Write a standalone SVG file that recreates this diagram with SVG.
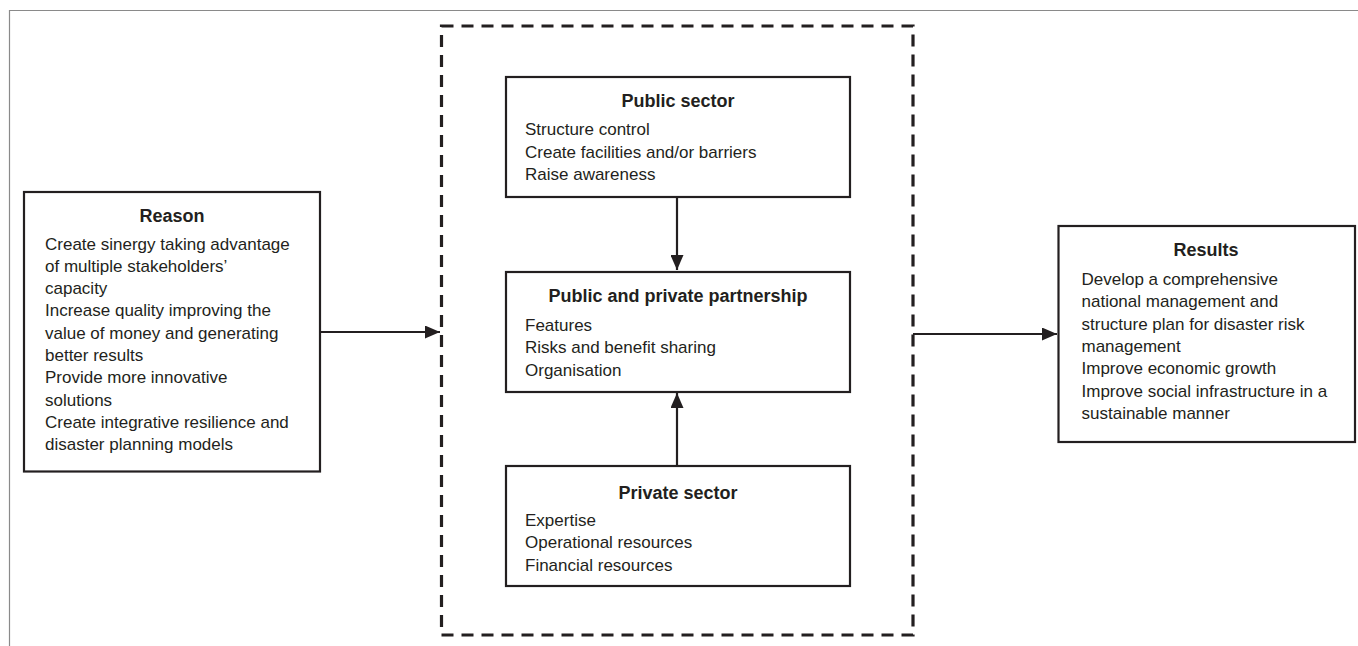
<svg xmlns="http://www.w3.org/2000/svg" width="1358" height="646" viewBox="0 0 1358 646">
<style>
.box{fill:#fff;stroke:#231f20;stroke-width:2.2}
.t{font-family:"Liberation Sans",Arial,sans-serif;font-size:18px;font-weight:bold;fill:#231f20;text-anchor:middle}
.b{font-family:"Liberation Sans",Arial,sans-serif;font-size:17px;fill:#231f20}
.c{fill:none;stroke:#231f20;stroke-width:2.2}
</style>
<defs>
<marker id="ah" markerUnits="userSpaceOnUse" markerWidth="15" markerHeight="13" refX="15" refY="6.5" orient="auto">
<path d="M0,0 L15,6.5 L0,13 z" fill="#231f20"/>
</marker>
</defs>
<rect width="1358" height="646" fill="#fff"/>
<path d="M9.5,646 V10.5 H1358" fill="none" stroke="#8a8a8a" stroke-width="1.2"/>
<rect id="frame" x="441.5" y="26" width="471.5" height="609" fill="none" stroke="#231f20" stroke-width="3.2" stroke-dasharray="12 8"/>
<g id="connectors">
<path class="c" d="M321,332 H440" marker-end="url(#ah)"/>
<path class="c" d="M913,334 H1057" marker-end="url(#ah)"/>
<path class="c" d="M677,198 V270" marker-end="url(#ah)"/>
<path class="c" d="M677,465 V393" marker-end="url(#ah)"/>
</g>
<g id="reason">
<rect class="box" x="24" y="192" width="296" height="279.5"/>
<text class="t" x="172" y="221.5">Reason</text>
<text class="b" x="45" y="249.5">Create sinergy taking advantage</text>
<text class="b" x="45" y="271.8">of multiple stakeholders’</text>
<text class="b" x="45" y="294.1">capacity</text>
<text class="b" x="45" y="316.4">Increase quality improving the</text>
<text class="b" x="45" y="338.7">value of money and generating</text>
<text class="b" x="45" y="361">better results</text>
<text class="b" x="45" y="383.3">Provide more innovative</text>
<text class="b" x="45" y="405.6">solutions</text>
<text class="b" x="45" y="427.9">Create integrative resilience and</text>
<text class="b" x="45" y="450.2">disaster planning models</text>
</g>
<g id="public">
<rect class="box" x="506" y="77" width="344" height="120"/>
<text class="t" x="678" y="106.7">Public sector</text>
<text class="b" x="525" y="135">Structure control</text>
<text class="b" x="525" y="157.5">Create facilities and/or barriers</text>
<text class="b" x="525" y="180">Raise awareness</text>
</g>
<g id="ppp">
<rect class="box" x="506" y="272" width="344" height="120"/>
<text class="t" x="678" y="302.3">Public and private partnership</text>
<text class="b" x="525" y="331">Features</text>
<text class="b" x="525" y="353.3">Risks and benefit sharing</text>
<text class="b" x="525" y="375.5">Organisation</text>
</g>
<g id="private">
<rect class="box" x="506" y="466" width="344" height="120"/>
<text class="t" x="678" y="499.3">Private sector</text>
<text class="b" x="525" y="526">Expertise</text>
<text class="b" x="525" y="548.3">Operational resources</text>
<text class="b" x="525" y="570.5">Financial resources</text>
</g>
<g id="results">
<rect class="box" x="1058.5" y="226" width="296.5" height="216"/>
<text class="t" x="1206" y="256">Results</text>
<text class="b" x="1081.5" y="285">Develop a comprehensive</text>
<text class="b" x="1081.5" y="307.3">national management and</text>
<text class="b" x="1081.5" y="329.6">structure plan for disaster risk</text>
<text class="b" x="1081.5" y="351.9">management</text>
<text class="b" x="1081.5" y="374.2">Improve economic growth</text>
<text class="b" x="1081.5" y="396.5">Improve social infrastructure in a</text>
<text class="b" x="1081.5" y="418.8">sustainable manner</text>
</g>
</svg>
